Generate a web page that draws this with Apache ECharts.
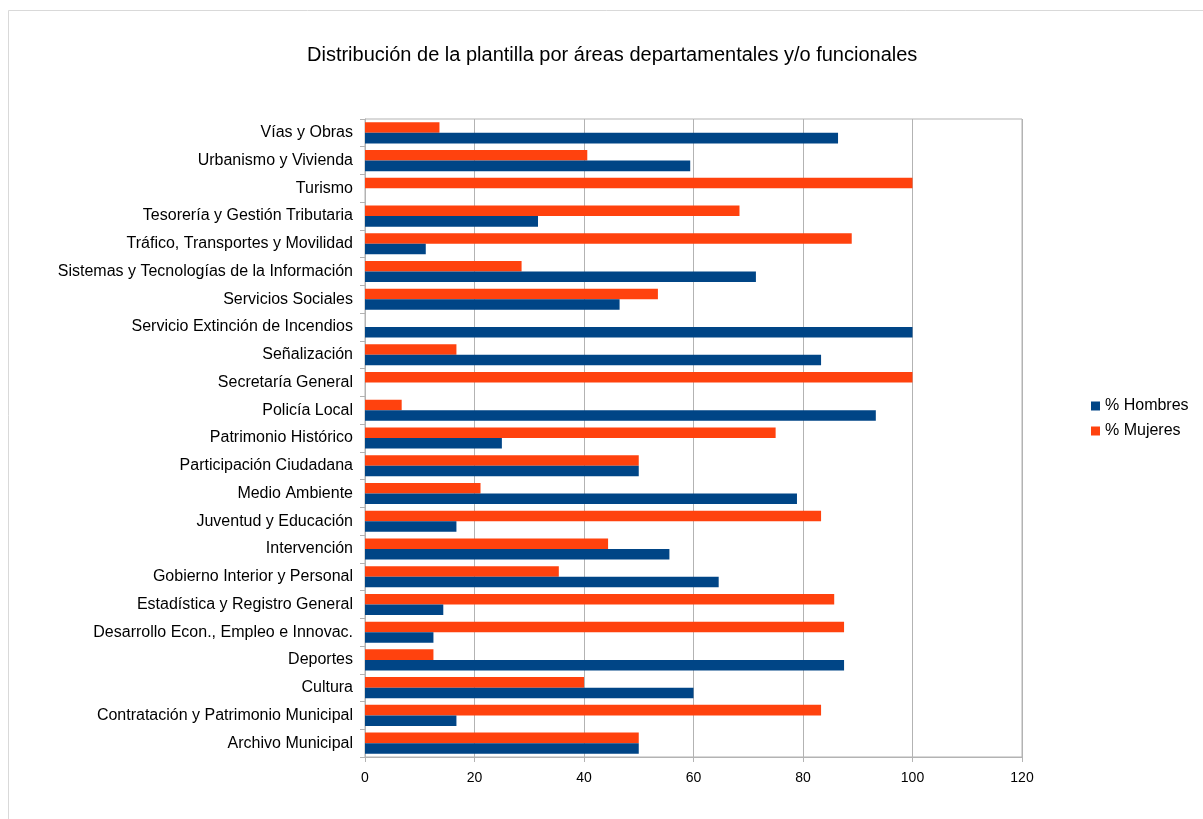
<!DOCTYPE html>
<html>
<head>
<meta charset="utf-8">
<script src="https://cdn.jsdelivr.net/npm/echarts@6/dist/echarts.min.js"></script>
<style>
  html, body { margin: 0; padding: 0; background: #ffffff; }
  #chart { width: 1203px; height: 819px; }
</style>
</head>
<body>
<div id="chart"></div>
<script>
// Departments, listed bottom to top as they appear on the category axis
const categories = [
  'Archivo Municipal',
  'Contratación y Patrimonio Municipal',
  'Cultura',
  'Deportes',
  'Desarrollo Econ., Empleo e Innovac.',
  'Estadística y Registro General',
  'Gobierno Interior y Personal',
  'Intervención',
  'Juventud y Educación',
  'Medio Ambiente',
  'Participación Ciudadana',
  'Patrimonio Histórico',
  'Policía Local',
  'Secretaría General',
  'Señalización',
  'Servicio Extinción de Incendios',
  'Servicios Sociales',
  'Sistemas y Tecnologías de la Información',
  'Tráfico, Transportes y Movilidad',
  'Tesorería y Gestión Tributaria',
  'Turismo',
  'Urbanismo y Vivienda',
  'Vías y Obras'
];

// Percentage of men per department
const hombres = [
  50, 16.7, 60, 87.5, 12.5, 14.3, 64.6, 55.6, 16.7, 78.9, 50, 25,
  93.3, 0, 83.3, 100, 46.5, 71.4, 11.1, 31.6, 0, 59.4, 86.4
];

// Percentage of women per department
const mujeres = [
  50, 83.3, 40, 12.5, 87.5, 85.7, 35.4, 44.4, 83.3, 21.1, 50, 75,
  6.7, 100, 16.7, 0, 53.5, 28.6, 88.9, 68.4, 100, 40.6, 13.6
];

const xTicks = { min: 0, max: 120, interval: 20 };

const chart = echarts.init(document.getElementById('chart'));
const gridColor = '#b3b3b3';
const font = 'Liberation Sans, Arial, sans-serif';

chart.setOption({
  backgroundColor: '#ffffff',
  animation: false,
  // thin frame of the chart area (its right and bottom edges fall outside the page)
  graphic: [{
    type: 'rect',
    shape: { x: 8.5, y: 10.5, width: 1400, height: 1000 },
    style: { fill: 'none', stroke: '#d9d9d9', lineWidth: 1 },
    silent: true,
    z: -1
  }],
  title: {
    text: 'Distribución de la plantilla por áreas departamentales y/o funcionales',
    left: 302,
    top: 40,
    textStyle: { fontFamily: font, fontSize: 20, fontWeight: 'normal', color: '#000000' }
  },
  legend: {
    orient: 'vertical',
    left: 1086,
    top: 393,
    itemWidth: 9,
    itemHeight: 9,
    itemGap: 9,
    icon: 'rect',
    textStyle: { fontFamily: font, fontSize: 16, color: '#000000', padding: [0, 0, 0, 0] },
    data: ['% Hombres', '% Mujeres']
  },
  grid: {
    left: 365,
    right: 181,
    top: 119,
    bottom: 62,
    show: true,
    borderColor: gridColor,
    borderWidth: 1
  },
  xAxis: {
    type: 'value',
    min: xTicks.min,
    max: xTicks.max,
    interval: xTicks.interval,
    axisLine: { show: true, lineStyle: { color: gridColor } },
    axisTick: { show: true, length: 5, lineStyle: { color: gridColor } },
    splitLine: { show: true, lineStyle: { color: gridColor } },
    axisLabel: { fontFamily: font, fontSize: 14, color: '#000000', margin: 14 }
  },
  yAxis: {
    type: 'category',
    data: categories,
    axisLine: { show: true, lineStyle: { color: gridColor } },
    axisTick: { show: true, length: 5, lineStyle: { color: gridColor } },
    splitLine: { show: false },
    axisLabel: { fontFamily: font, fontSize: 16, color: '#000000', margin: 12 }
  },
  series: [
    {
      name: '% Mujeres',
      type: 'bar',
      data: mujeres,
      itemStyle: { color: '#ff420e' },
      barGap: '0%',
      barCategoryGap: '24%'
    },
    {
      name: '% Hombres',
      type: 'bar',
      data: hombres,
      itemStyle: { color: '#004586' },
      barGap: '0%',
      barCategoryGap: '24%'
    }
  ]
});
</script>
</body>
</html>
